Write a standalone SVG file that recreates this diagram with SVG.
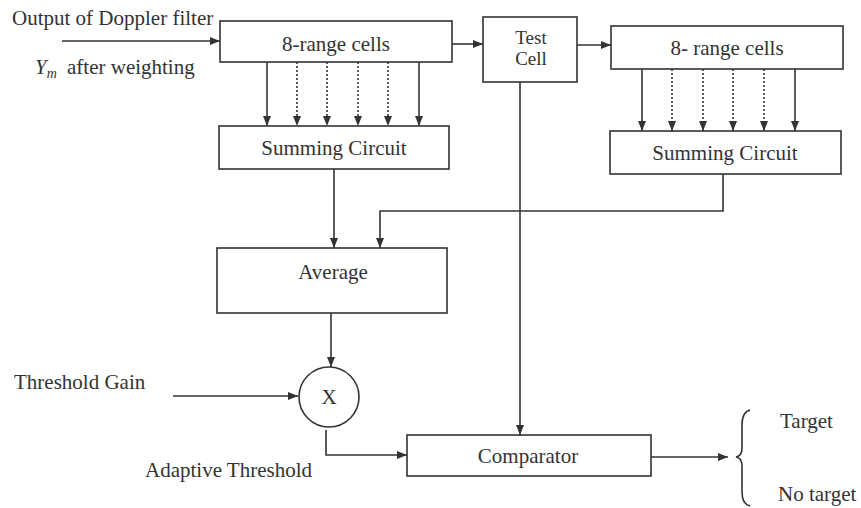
<svg xmlns="http://www.w3.org/2000/svg" width="861" height="508" viewBox="0 0 861 508">
<style>
  .box{fill:none;stroke:#333;stroke-width:1.6}
  .ln{fill:none;stroke:#333;stroke-width:1.6}
  .dot{fill:none;stroke:#333;stroke-width:1.6;stroke-dasharray:2 2}
  text{font-family:"Liberation Serif","Times New Roman",serif;font-size:21px;fill:#333}
  .c{text-anchor:middle}
  .s{font-size:19px}
</style>
<defs>
  <marker id="ah" viewBox="0 0 10 10" refX="10" refY="5" markerWidth="10" markerHeight="10" markerUnits="userSpaceOnUse" orient="auto">
    <path d="M0,1 L10,5 L0,9 Z" fill="#333"/>
  </marker>
</defs>
<rect width="861" height="508" fill="#fff"/>

<g id="connectors">
  <line class="ln" x1="62" y1="41" x2="220" y2="41" marker-end="url(#ah)"/>
  <line class="ln" x1="452" y1="44" x2="483" y2="44" marker-end="url(#ah)"/>
  <line class="ln" x1="577" y1="45" x2="611" y2="45" marker-end="url(#ah)"/>
  <line class="ln" x1="267" y1="62" x2="267" y2="126" marker-end="url(#ah)"/>
  <line class="dot" x1="297" y1="62" x2="297" y2="126" marker-end="url(#ah)"/>
  <line class="dot" x1="327" y1="62" x2="327" y2="126" marker-end="url(#ah)"/>
  <line class="dot" x1="358" y1="62" x2="358" y2="126" marker-end="url(#ah)"/>
  <line class="dot" x1="388" y1="62" x2="388" y2="126" marker-end="url(#ah)"/>
  <line class="ln" x1="419" y1="62" x2="419" y2="126" marker-end="url(#ah)"/>
  <line class="ln" x1="642" y1="69" x2="642" y2="131" marker-end="url(#ah)"/>
  <line class="dot" x1="672" y1="69" x2="672" y2="131" marker-end="url(#ah)"/>
  <line class="dot" x1="703" y1="69" x2="703" y2="131" marker-end="url(#ah)"/>
  <line class="dot" x1="733" y1="69" x2="733" y2="131" marker-end="url(#ah)"/>
  <line class="dot" x1="764" y1="69" x2="764" y2="131" marker-end="url(#ah)"/>
  <line class="ln" x1="795" y1="69" x2="795" y2="131" marker-end="url(#ah)"/>
  <line class="ln" x1="334" y1="169" x2="334" y2="248" marker-end="url(#ah)"/>
  <polyline class="ln" points="723,174 723,211 380,211 380,248" marker-end="url(#ah)"/>
  <line class="ln" x1="520" y1="82" x2="520" y2="435" marker-end="url(#ah)"/>
  <line class="ln" x1="331" y1="313" x2="331" y2="367" marker-end="url(#ah)"/>
  <line class="ln" x1="173" y1="396" x2="298" y2="396" marker-end="url(#ah)"/>
  <polyline class="ln" points="326,430 326,455 407,455" marker-end="url(#ah)"/>
  <line class="ln" x1="651" y1="457" x2="728" y2="457" marker-end="url(#ah)"/>
</g>

<g id="input-label">
  <text x="12" y="25">Output of Doppler filter</text>
  <text x="35" y="74"><tspan font-style="italic">Y</tspan><tspan font-style="italic" font-size="14" dy="4">m</tspan><tspan dy="-4" x="67">after weighting</tspan></text>
</g>

<g id="range-cells-left">
  <rect class="box" x="220" y="21" width="232" height="41"/>
  <text class="c" x="336" y="51">8-range cells</text>
</g>
<g id="test-cell">
  <rect class="box" x="483" y="17" width="94" height="65"/>
  <text class="c s" x="531" y="44">Test</text>
  <text class="c s" x="531" y="65">Cell</text>
</g>
<g id="range-cells-right">
  <rect class="box" x="611" y="26" width="232" height="43"/>
  <text class="c" x="727" y="55">8- range cells</text>
</g>
<g id="summing-left">
  <rect class="box" x="219" y="126" width="230" height="43"/>
  <text class="c" x="334" y="155">Summing Circuit</text>
</g>
<g id="summing-right">
  <rect class="box" x="610" y="131" width="231" height="43"/>
  <text class="c" x="725" y="160">Summing Circuit</text>
</g>
<g id="average">
  <rect class="box" x="217" y="248" width="230" height="65"/>
  <text class="c" x="333" y="279">Average</text>
</g>
<g id="multiplier">
  <circle class="box" cx="329" cy="397" r="30"/>
  <text class="c" x="329" y="404">X</text>
</g>
<g id="threshold-gain">
  <text x="14" y="389">Threshold Gain</text>
</g>
<g id="adaptive-threshold">
  <text x="145" y="477">Adaptive Threshold</text>
</g>
<g id="comparator">
  <rect class="box" x="407" y="435" width="244" height="41"/>
  <text class="c" x="528" y="463">Comparator</text>
</g>
<g id="outputs">
  <path class="ln" d="M750,410 Q742,412 742,425 L742,448 Q742,456 736,457 Q742,458 742,466 L742,492 Q742,504 750,506"/>
  <text x="780" y="428">Target</text>
  <text x="778" y="501">No target</text>
</g>
</svg>
